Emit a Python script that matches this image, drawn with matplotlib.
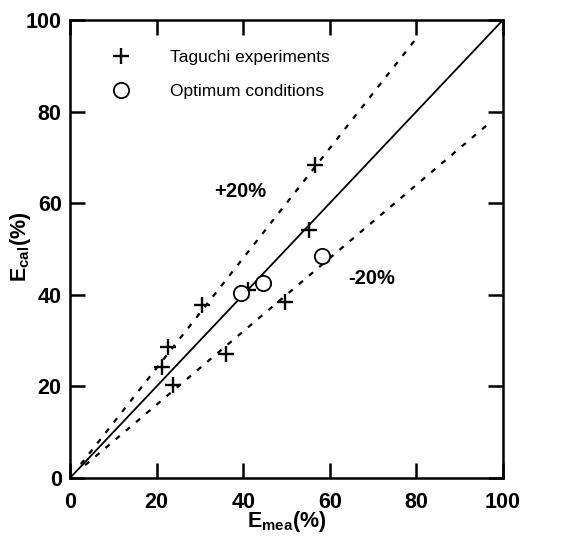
import matplotlib
matplotlib.use("Agg")
import matplotlib.pyplot as plt
import numpy as np

# Data
taguchi_mea = [56.5, 55.2, 30.6, 41.2, 49.7, 22.7, 21.2, 23.9, 36.0]
taguchi_cal = [68.3, 54.1, 37.8, 41.0, 38.4, 28.5, 24.3, 20.4, 27.0]
optimum_mea = [39.4, 44.6, 58.1]
optimum_cal = [40.5, 42.5, 48.5]
ticks = [0, 20, 40, 60, 80, 100]

plt.rcParams['font.family'] = ['Liberation Sans', 'DejaVu Sans']
plt.rcParams['mathtext.fontset'] = 'custom'
plt.rcParams['mathtext.rm'] = 'Liberation Sans:bold'
plt.rcParams['mathtext.bf'] = 'Liberation Sans:bold'
plt.rcParams['mathtext.it'] = 'Liberation Sans:bold'

fig = plt.figure(figsize=(5.63, 5.36), dpi=100)
ax = fig.add_axes([0.1243, 0.1082, 0.769, 0.8545])

# reference lines
ax.plot([0, 100], [0, 100], color='black', lw=1.3)
ax.plot([2.5, 80], [3, 96], color='black', lw=1.6, linestyle=(0, (2.4, 3.6)))
ax.plot([3.5, 97.5], [2.8, 78], color='black', lw=1.6, linestyle=(0, (2.4, 3.6)))

ax.plot(taguchi_mea, taguchi_cal, linestyle='none', marker='+', ms=11.5,
        mew=1.7, color='black', label='Taguchi experiments')
ax.plot(optimum_mea, optimum_cal, linestyle='none', marker='o', ms=11,
        mew=1.3, mfc='white', mec='black', label='Optimum conditions')

ax.legend(loc='upper left', bbox_to_anchor=(0.045, 0.968), frameon=False,
          fontsize=12.5, handletextpad=1.95, labelspacing=1.08, numpoints=1,
          handlelength=1.8)

ax.text(39.3, 62.5, '+20%', fontsize=14.5, fontweight='bold', ha='center', va='center')
ax.text(69.7, 43.6, '-20%', fontsize=14.5, fontweight='bold', ha='center', va='center')

ax.set_xlim(0, 100)
ax.set_ylim(0, 100)
ax.set_xticks(ticks)
ax.set_yticks(ticks)
ax.tick_params(direction='in', length=11, width=1.8, top=True, right=True,
               labelsize=15.5)
ax.tick_params(axis='x', pad=10)
ax.tick_params(axis='y', pad=6)
for lab in ax.get_xticklabels() + ax.get_yticklabels():
    lab.set_fontweight('bold')
for s in ax.spines.values():
    s.set_linewidth(1.8)

ax.set_xlabel(r'$\mathbf{E}_{\mathbf{mea}}$(%)', fontsize=15.5, fontweight='bold')
ax.set_ylabel(r'$\mathbf{E}_{\mathbf{cal}}$(%)', fontsize=15.5, fontweight='bold')
ax.yaxis.set_label_coords(-0.085, 0.505)
ax.xaxis.set_label_coords(0.5, -0.068)

fig.savefig('out.png', dpi=100)
